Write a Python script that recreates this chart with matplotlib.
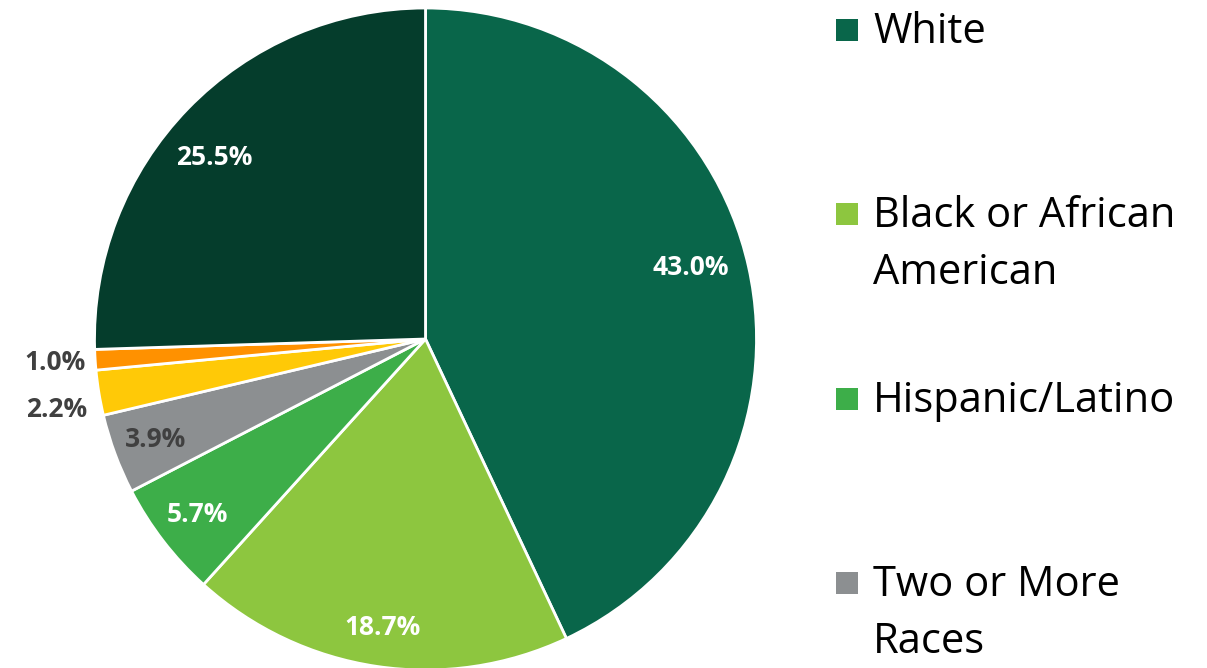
import matplotlib
matplotlib.use("Agg")
import matplotlib.pyplot as plt
from matplotlib.patches import Rectangle
import numpy as np

# Enrollment share by race/ethnicity (percent), clockwise from 12 o'clock
categories = ["White", "Black or African\nAmerican", "Hispanic/Latino",
              "Two or More\nRaces", "Asian", "American Indian or\nAlaska Native",
              "Race/Ethnicity\nUnknown"]
shares = [43.0, 18.7, 5.7, 3.9, 2.2, 1.0, 25.5]
colors = ["#09664A", "#8DC63F", "#3DAE49", "#8C8F91", "#FFC907", "#FF9100", "#053D2C"]
label_colors = ["white", "white", "white", "#404040", "#404040", "#404040", "white"]
label_radius = [0.83, 0.88, 0.87, 0.87, 1.134, 1.12, 0.84]
label_nudge = [2.5, 0.0, 0.0, 0.0, 1.5, 0.0, 3.4]
legend_shown = 4  # entries that fit on the canvas

W, H = 1207, 668
fig = plt.figure(figsize=(W / 100, H / 100), dpi=100)

# pie axes: circle centred at (425.5, 339) px with radius 331 px
cx, cy, r = 425.5, 339, 331
ax = fig.add_axes([(cx - r) / W, (H - cy - r) / H, 2 * r / W, 2 * r / H])
wedges, _ = ax.pie(shares, colors=colors, startangle=90, counterclock=False,
                   radius=1.0, wedgeprops=dict(edgecolor="white", linewidth=2.0))
ax.set_xlim(-1, 1)
ax.set_ylim(-1, 1)
ax.set_aspect("equal")
ax.axis("off")

for w, val, col, rr, nd in zip(wedges, shares, label_colors, label_radius, label_nudge):
    ang = np.deg2rad((w.theta1 + w.theta2) / 2 + nd)
    ax.text(rr * np.cos(ang), rr * np.sin(ang), f"{val:.1f}%",
            ha="center", va="center", color=col, fontsize=19,
            fontweight="bold", family="Open Sans", clip_on=False)

# legend down the right side
first_baseline = 43
step = 184.3
line_gap = 57
for i, (name, col) in enumerate(zip(categories[:legend_shown], colors)):
    base = first_baseline + i * step
    fig.patches.append(Rectangle((836 / W, (H - (base - 13) - 11) / H), 22 / W, 22 / H,
                                 transform=fig.transFigure, facecolor=col,
                                 edgecolor="none"))
    for j, line in enumerate(name.split("\n")):
        fig.text(873 / W, (H - base - j * line_gap) / H, line, ha="left",
                 va="baseline", fontsize=30, family="Open Sans", color="black")

fig.savefig("out.png", dpi=100)
